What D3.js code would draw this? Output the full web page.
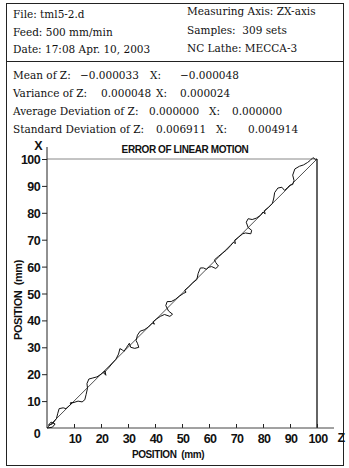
<!DOCTYPE html>
<html>
<head>
<meta charset="utf-8">
<script src="https://cdn.jsdelivr.net/npm/d3@7"></script>
<style>
  body { margin: 0; background: #fff; }
  svg text { white-space: pre; }
  .hdr { font-family: "DejaVu Serif", serif; font-size: 10.5px; fill: #111; }
  .tick-lbl { font-family: "Liberation Sans", Arial, sans-serif; font-weight: bold; font-size: 12.5px; fill: #111; letter-spacing: -0.6px; }
  .ttl { font-family: "Liberation Sans", Arial, sans-serif; font-weight: bold; font-size: 10px; fill: #111; letter-spacing: -0.4px; }
</style>
</head>
<body>
<div id="chart"></div>
<script>
// header info
const headerLeft = ['File: tml5-2.d', 'Feed: 500 mm/min', 'Date: 17:08 Apr. 10, 2003']
const headerRight = ['Measuring Axis: ZX-axis', 'Samples:  309 sets', 'NC Lathe: MECCA-3']

// statistics
const statLabels = ['Mean of Z:', 'Variance of Z:', 'Average Deviation of Z:', 'Standard Deviation of Z:']
const statZ = ['\u22120.000033', '0.000048', '0.000000', '0.006911']
const statX = ['\u22120.000048', '0.000024', '0.000000', '0.004914']

// axis ticks
const tickValues = [10, 20, 30, 40, 50, 60, 70, 80, 90, 100]

// reference (commanded) path
const refZ = [0, 100]
const refX = [0, 100]

// measured path, Z and X positions (mm), deviations as plotted
const measZ = [0, 2, 3, 1.5, 0.5, 2, 3.5, 4, 4.5, 6, 7,
  8.5, 9.5, 8.5, 10,
  11.5, 13, 14, 14.5, 15,
  14.8, 15.5, 17, 18.5, 20,
  21.5, 21.8, 21, 22.5, 24, 25.5,
  26.5, 27, 28, 28.5, 29.5,
  30.5, 31, 32.5, 34, 33.5, 33,
  33.5, 34.5, 36, 37.5,
  39, 39.8, 39.3, 40.5, 42,
  43.5, 45.5, 46.5, 45,
  44, 44.5, 46, 47.5, 49,
  50.5, 51.5, 51, 52.5, 54, 55.5,
  56, 56.8, 58, 59, 60,
  61, 62.5, 63.5, 62.5, 62,
  63.5, 65, 66.5, 68,
  69, 69.8, 69.5, 71, 72.5,
  73.5, 75.5, 75.8, 74.5,
  73.8, 74.5, 76, 77.5, 79,
  80, 80.8, 80.5, 82, 83.5,
  84, 84.3, 85.5, 87, 88, 89, 90, 91,
  91.5, 91, 91.8, 93.5, 95, 96.5, 97.5, 98.5, 99.5, 100]
const measX = [0, 0.3, 1.5, 2.2, 1, 1.5, 3.5, 5.5, 7.2, 7.5, 7.2,
  8.5, 9.5, 9.2, 9.5,
  10, 9.7, 10.5, 12.5, 14.8,
  16.5, 18.2, 18.6, 19, 20,
  21.2, 19.6, 20.5, 22, 23.8, 25.5,
  27.5, 29.5, 29, 28.5, 30,
  31.5, 30, 29.6, 30, 31.5, 32.5,
  34.5, 36, 36.5, 37.5,
  39, 38.6, 39.5, 40.5, 41.5,
  42.2, 41.5, 42.3, 43.5,
  45.5, 47, 47, 47.8, 49,
  50, 50.5, 51.2, 52.5, 54, 55.2,
  57.5, 59.5, 59.5, 59, 59.8,
  60, 59.3, 60.2, 61.5, 62.5,
  63.8, 65, 66.2, 67.8,
  69, 68.6, 69.8, 71, 72.2,
  72.5, 72.2, 73.5, 74.5,
  76.5, 77.8, 77.5, 78, 79,
  80.3, 79.6, 80.8, 82, 83.5,
  85.5, 87.5, 89.2, 89.5, 88.3, 89.3, 90.3, 90.5,
  92, 94, 96.3, 97.3, 97.8, 98.7, 99.5, 100.5, 99.8, 100]

const W = 349, H = 468
const svg = d3.select('#chart').append('svg')
  .attr('width', W).attr('height', H)

// frame
svg.append('rect')
  .attr('x', 6.5).attr('y', 3.5).attr('width', 337).attr('height', 462)
  .attr('fill', 'none').attr('stroke', '#222').attr('stroke-width', 1)
svg.append('line')
  .attr('x1', 6.5).attr('x2', 343.5).attr('y1', 61.5).attr('y2', 61.5)
  .attr('stroke', '#222')

// header
headerLeft.forEach((t, i) => {
  svg.append('text').attr('class', 'hdr').attr('x', 13).attr('y', 18 + i * 17.5).text(t)
})
headerRight.forEach((t, i) => {
  svg.append('text').attr('class', 'hdr').attr('x', 187).attr('y', 15 + i * 18.5).text(t)
})

// stats block
const statZx = [80, 101, 149, 156]
const statXx = [150, 156, 209, 216]
const statXv = [180, 180, 232, 248]
statLabels.forEach((t, i) => {
  const y = 79 + i * 18
  svg.append('text').attr('class', 'hdr').attr('x', 13).attr('y', y).text(t)
  svg.append('text').attr('class', 'hdr').attr('x', statZx[i]).attr('y', y).text(statZ[i])
  svg.append('text').attr('class', 'hdr').attr('x', statXx[i]).attr('y', y).text('X:')
  svg.append('text').attr('class', 'hdr').attr('x', statXv[i]).attr('y', y).text(statX[i])
})

// plot
const x = d3.scaleLinear().domain([0, 100]).range([47, 317])
const y = d3.scaleLinear().domain([0, 100]).range([428, 159])

// box top & right
svg.append('line')
  .attr('x1', x(0)).attr('x2', x(100)).attr('y1', y(100)).attr('y2', y(100))
  .attr('stroke', '#888').attr('stroke-width', 1)
svg.append('line')
  .attr('x1', x(100)).attr('x2', x(100)).attr('y1', y(100)).attr('y2', y(0))
  .attr('stroke', '#111').attr('stroke-width', 1.3)

// y axis
const yAxis = svg.append('g').attr('transform', `translate(${x(0)},0)`)
  .call(d3.axisLeft(y).tickValues(tickValues).tickSize(5).tickSizeOuter(0).tickPadding(2))
yAxis.select('.domain').remove()
yAxis.selectAll('text').attr('class', 'tick-lbl').attr('dy', '0.36em')
yAxis.selectAll('line').attr('stroke', '#222')
svg.append('line')
  .attr('x1', x(0)).attr('x2', x(0)).attr('y1', y(0)).attr('y2', 147)
  .attr('stroke', '#222')

// x axis
const xAxis = svg.append('g').attr('transform', `translate(0,${y(0)})`)
  .call(d3.axisTop(x).tickValues(tickValues).tickSize(4).tickSizeOuter(0).tickFormat(''))
xAxis.select('.domain').remove()
xAxis.selectAll('line').attr('stroke', '#222')
svg.append('g').selectAll('text').data(tickValues).join('text')
  .attr('class', 'tick-lbl')
  .attr('x', d => x(d) + 1).attr('y', y(0) + 15)
  .attr('text-anchor', 'middle')
  .text(d => d)
svg.append('line')
  .attr('x1', x(0)).attr('x2', 334).attr('y1', y(0)).attr('y2', y(0))
  .attr('stroke', '#444')

// origin & axis names
svg.append('text').attr('class', 'tick-lbl').attr('x', 37).attr('y', y(0) + 10).attr('text-anchor', 'middle').text('0')
svg.append('text').attr('class', 'tick-lbl').attr('x', 341).attr('y', y(0) + 14).attr('text-anchor', 'middle').text('Z')
svg.append('text').attr('class', 'tick-lbl').attr('x', 38).attr('y', 150).attr('text-anchor', 'middle').text('X')

svg.append('text').attr('class', 'ttl').attr('x', 185).attr('y', 153).attr('text-anchor', 'middle').text('ERROR OF LINEAR MOTION')
svg.append('text').attr('class', 'ttl').attr('x', 168).attr('y', 458).attr('text-anchor', 'middle').text('POSITION  (mm)')
svg.append('text').attr('class', 'ttl').style('font-size', '11px')
  .attr('transform', 'translate(22,300) rotate(-90)')
  .attr('text-anchor', 'middle').text('POSITION  (mm)')

// reference line
svg.append('line')
  .attr('x1', x(refZ[0])).attr('y1', y(refX[0]))
  .attr('x2', x(refZ[1])).attr('y2', y(refX[1]))
  .attr('stroke', '#222').attr('stroke-width', 0.8)

// measured curve
const pts = measZ.map((z, i) => [z, measX[i]])
svg.append('path')
  .datum(pts)
  .attr('fill', 'none').attr('stroke', '#111').attr('stroke-width', 1)
  .attr('stroke-linejoin', 'round')
  .attr('d', d3.line().x(d => x(d[0])).y(d => y(d[1])))
</script>
</body>
</html>
